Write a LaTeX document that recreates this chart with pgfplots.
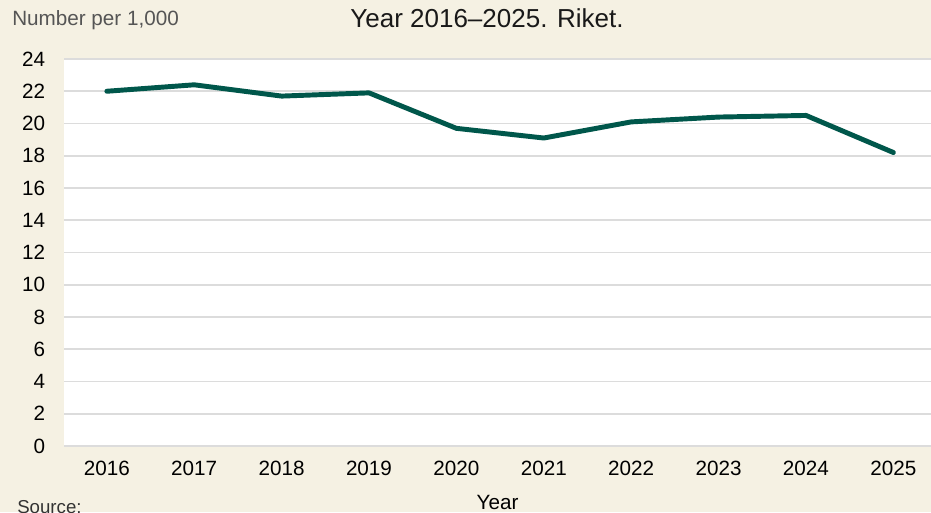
\documentclass[border=0pt]{standalone}
\usepackage{pgfplots}
\pgfplotsset{compat=1.18}
\usepackage{fontspec}
\setmainfont{Liberation Sans}
\definecolor{bgcream}{HTML}{F5F1E3}
\definecolor{linegreen}{HTML}{00574B}
\definecolor{gridgrey}{HTML}{DCDCDC}
\definecolor{labelgrey}{HTML}{555555}
\begin{document}
\begin{tikzpicture}
\clip (0,0) rectangle (698.25pt,384pt);
\fill[bgcream] (0,0) rectangle (698.25pt,384pt);
\begin{axis}[
    at={(48pt,49.5pt)}, anchor=south west,
    scale only axis,
    width=650.25pt, height=290.25pt,
    axis background/.style={fill=white},
    axis line style={draw=none},
    xmin=2015.51, xmax=2025.43,
    ymin=0, ymax=24,
    xtick={2016,...,2025},
    ytick={0,2,...,24},
    major tick length=0pt,
    ymajorgrids,
    grid style={gridgrey, line width=1.3pt},
    /pgf/number format/assume math mode=true,
    /pgf/number format/1000 sep={},
    tick label style={font=\fontsize{15.5}{18}\selectfont, text=black, inner sep=0pt},
    yticklabel style={anchor=east, xshift=-14pt},
    xticklabel style={anchor=north, yshift=-11pt},
    xlabel={Year},
    xlabel style={at={(axis description cs:0.5,0)}, anchor=base, yshift=-47.25pt, font=\fontsize{15.5}{18}\selectfont},
]
\addplot[color=linegreen, line width=3.7pt, line cap=round, line join=round]
coordinates {
    (2016, 22.0)
    (2017, 22.4)
    (2018, 21.7)
    (2019, 21.9)
    (2020, 19.7)
    (2021, 19.1)
    (2022, 20.1)
    (2023, 20.4)
    (2024, 20.5)
    (2025, 18.2)
};
\end{axis}
\node[anchor=base, font=\fontsize{19.5}{22}\selectfont, text=black!90] at (365.25pt,363pt) {Year 2016–2025. Riket.};
\node[anchor=base west, inner sep=0pt, font=\fontsize{15.5}{18}\selectfont, text=labelgrey] at (9pt,365.25pt) {Number per 1,000};
\node[anchor=base west, inner sep=0pt, font=\fontsize{14}{17}\selectfont, text=black!80] at (12.75pt,-0.75pt) {Source:};
\end{tikzpicture}
\end{document}
